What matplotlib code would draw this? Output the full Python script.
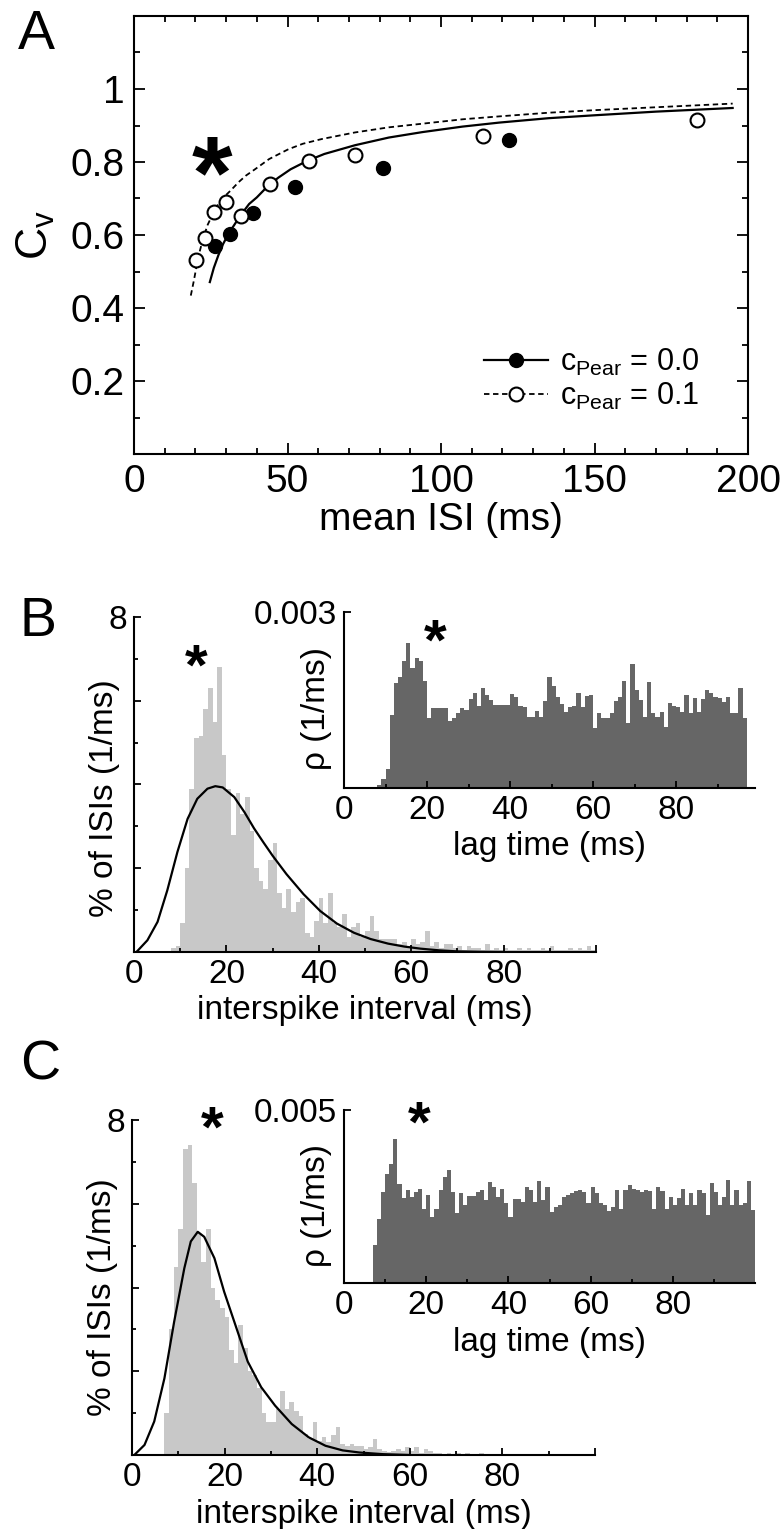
import numpy as np
import matplotlib
matplotlib.use('Agg')
import matplotlib.pyplot as plt
from matplotlib.lines import Line2D
from matplotlib.ticker import MultipleLocator, FixedLocator
from matplotlib.transforms import offset_copy

plt.rcParams['font.family'] = ['Liberation Sans', 'DejaVu Sans']
plt.rcParams['mathtext.fontset'] = 'custom'
plt.rcParams['mathtext.rm'] = 'Liberation Sans'
plt.rcParams['mathtext.it'] = 'Liberation Sans:italic'

# ---- panel A: Cv vs mean ISI ----
isi_c00 = [26.3, 31.3, 38.7, 52.3, 81.0, 122.0]
cv_c00 = [0.570, 0.603, 0.660, 0.731, 0.783, 0.861]
isi_c01 = [20.2, 23.0, 26.2, 29.9, 34.7, 44.3, 57.1, 72.0, 113.7, 183.5]
cv_c01 = [0.531, 0.591, 0.662, 0.690, 0.652, 0.740, 0.803, 0.820, 0.870, 0.915]

theo_c00_isi = [24.7, 26, 27.5, 29, 30.9, 33, 35, 37.5, 40, 43.7, 47, 51, 56.4, 62, 72,
                83, 94, 107, 119, 135, 150, 170, 195]
theo_c00_cv = [0.471, 0.51, 0.545, 0.575, 0.605, 0.632, 0.657, 0.685, 0.703, 0.735, 0.757,
               0.78, 0.803, 0.822, 0.846, 0.867, 0.882, 0.897, 0.908, 0.92, 0.928, 0.938, 0.948]
theo_c01_isi = [18.5, 19.5, 20.5, 21.5, 22.5, 24, 25.8, 27.5, 29.4, 31.5, 34.1, 36.5, 39.4,
                44, 50.3, 55, 61.2, 72, 83, 94, 107, 119, 135, 150, 170, 195]
theo_c01_cv = [0.434, 0.475, 0.52, 0.558, 0.59, 0.628, 0.66, 0.685, 0.705, 0.722, 0.745,
               0.763, 0.78, 0.808, 0.835, 0.85, 0.863, 0.881, 0.895, 0.905, 0.917, 0.925,
               0.935, 0.942, 0.95, 0.96]

# ---- panel B: ISI histogram (% per ms, 1 ms bins from 8 ms) ----
isi_b_start = 8
isi_b = [0.1, 0.15, 0.7, 2.0, 3.9, 5.1, 5.15, 5.8, 6.3, 5.5, 6.8, 4.7, 3.9, 2.8, 3.8, 3.3,
         3.7, 2.9, 2.0, 1.7, 1.5, 2.2, 2.6, 1.4, 1.05, 1.5, 0.95, 1.2, 1.3, 0.45, 0.35, 0.75,
         1.3, 0.7, 1.4, 0.7, 0.6, 0.9, 0.35, 0.6, 0.7, 0.35, 0.5, 0.85, 0.5, 0.3, 0.3, 0.3,
         0.3, 0.2, 0.25, 0.15, 0.3, 0.2, 0.25, 0.5, 0.15, 0.25, 0.1, 0.2, 0.2, 0.1, 0.15,
         0.05, 0.15, 0.1, 0.1, 0.05, 0.2, 0.05, 0.1, 0.05, 0.1, 0.05, 0.05, 0.1, 0.05, 0.1,
         0.05, 0.05, 0.1, 0.05, 0.15, 0.05, 0.05, 0.05, 0.1, 0.05, 0.1, 0.05, 0.15, 0.05]
fit_b_t = [0.5, 0.7, 2.9, 5.1, 7.2, 9.4, 11.6, 13.7, 15.9, 17.6, 19.2, 21.7, 23.9, 26.0, 28,
           30, 33, 36.7, 40.3, 43.9, 47.6, 51.2, 55, 58.5, 62, 66, 70, 75, 80]
fit_b_p = [0.0, 0.02, 0.28, 0.72, 1.47, 2.39, 3.18, 3.66, 3.90, 3.96, 3.93, 3.70, 3.34, 2.95,
           2.62, 2.30, 1.86, 1.38, 0.98, 0.68, 0.46, 0.31, 0.20, 0.13, 0.08, 0.04, 0.015,
           0.005, 0.0]
# autocorrelation (units of 1e-4 per ms, 1 ms bins from 8 ms)
rho_b_start = 8
rho_b = [0.5, 1.6, 3.3, 12.4, 17.9, 18.9, 21.7, 24.7, 20.4, 22.1, 21.6, 18.3, 11.9, 13.6,
         13.6, 13.6, 13.6, 11.5, 12.0, 12.8, 13.7, 13.3, 15.1, 16.2, 14.0, 17.1, 15.8, 15.0,
         14.1, 14.1, 14.1, 14.1, 16.1, 15.5, 14.0, 13.8, 12.1, 12.1, 13.1, 12.1, 14.8, 18.9,
         17.4, 15.5, 14.4, 13.0, 13.8, 14.0, 16.2, 13.8, 15.7, 15.8, 10.2, 12.7, 12.0, 12.0,
         12.7, 14.9, 15.5, 18.3, 11.0, 21.1, 16.7, 15.0, 12.1, 18.1, 12.7, 12.1, 13.0, 10.4,
         14.5, 14.0, 13.8, 12.9, 15.8, 12.8, 15.3, 13.0, 15.1, 16.7, 16.2, 15.5, 15.4, 14.7,
         15.5, 12.8, 12.7, 17.0, 11.9]

# ---- panel C ----
isi_c_start = 7
isi_c = [1.0, 3.0, 4.5, 5.4, 7.3, 7.4, 6.5, 5.3, 4.6, 5.4, 4.0, 3.7, 3.5, 3.3, 2.5, 2.2,
         3.1, 2.55, 2.0, 1.9, 1.6, 1.0, 0.8, 0.78, 1.1, 1.54, 1.1, 1.26, 1.06, 0.94, 0.5,
         0.38, 0.8, 0.34, 0.42, 0.32, 0.47, 0.66, 0.26, 0.22, 0.26, 0.22, 0.22, 0.14, 0.18,
         0.38, 0.14, 0.1, 0.06, 0.1, 0.14, 0.1, 0.18, 0.1, 0.2, 0.05, 0.15, 0.1, 0.05, 0.05,
         0.02, 0.05, 0.02, 0.05, 0.02, 0.05, 0.0, 0.02, 0.05, 0.02, 0.0, 0.02, 0.0, 0.0, 0.0,
         0.0, 0.0, 0.0, 0.0, 0.0, 0.0, 0.03]
fit_c_t = [0.5, 2.7, 4.8, 7.0, 9.1, 11.3, 12.7, 14.2, 15.6, 17.8, 19.9, 22.1, 25.0, 27.9,
           30.9, 34.5, 38.2, 41.8, 45.5, 49.1, 54.2, 60]
fit_c_p = [0.0, 0.24, 0.80, 1.83, 3.18, 4.46, 5.10, 5.33, 5.21, 4.70, 3.90, 3.18, 2.23, 1.62,
           1.18, 0.74, 0.42, 0.22, 0.11, 0.06, 0.02, 0.0]
rho_c_start = 7
rho_c = [10.9, 18.4, 26.3, 31.5, 34.4, 41.6, 28.5, 24.7, 27.0, 24.9, 26.3, 27.3, 21.5, 25.4,
         19.1, 21.5, 26.8, 30.5, 32.6, 26.3, 20.1, 26.1, 22.5, 25.1, 25.1, 26.3, 27.0, 23.9,
         29.2, 27.8, 24.9, 27.3, 23.0, 19.1, 24.4, 24.4, 23.4, 27.8, 26.8, 23.4, 29.5, 23.9,
         27.8, 20.6, 22.0, 22.5, 24.9, 25.4, 26.1, 26.6, 26.8, 26.3, 23.0, 27.8, 25.9, 23.0,
         22.5, 20.8, 22.0, 26.8, 21.5, 26.8, 28.3, 27.3, 26.8, 26.3, 26.8, 26.5, 21.5, 27.8,
         26.5, 21.5, 24.9, 22.5, 24.7, 27.3, 22.5, 26.1, 22.5, 26.8, 25.9, 19.6, 28.8, 26.3,
         22.5, 24.9, 29.9, 22.5, 27.0, 22.5, 23.2, 29.5, 21.0]

W, H = 783, 1529
FS = 24


def px_box(x0, y0, x1, y1):
    return [x0 / W, 1 - y1 / H, (x1 - x0) / W, (y1 - y0) / H]


def star(ax, x, y, size):
    tr = offset_copy(ax.transData, fig=ax.figure, y=-0.58 * size, units='points')
    ax.text(x, y, '*', transform=tr, fontsize=size, fontweight='bold',
            ha='center', va='baseline', clip_on=False)


def style_isi(ax, top):
    for s in ['top', 'right']:
        ax.spines[s].set_visible(False)
    for s in ['left', 'bottom']:
        ax.spines[s].set_linewidth(1.5)
    ax.set_xlim(0, 100)
    ax.set_ylim(0, top)
    ax.xaxis.set_major_locator(FixedLocator([0, 20, 40, 60, 80, 100]))
    ax.set_xticklabels(['0', '20', '40', '60', '80', ''])
    ax.xaxis.set_minor_locator(FixedLocator([10, 30, 50, 70, 90]))
    ax.yaxis.set_major_locator(FixedLocator([2, 4, 6, 8]))
    ax.set_yticklabels(['', '', '', '8'])
    ax.yaxis.set_minor_locator(FixedLocator([1, 3, 5, 7]))
    ax.tick_params(which='both', direction='in', labelsize=FS, width=1.3, pad=5)
    ax.tick_params(which='major', length=5)
    ax.tick_params(which='minor', length=3)
    ax.set_xlabel('interspike interval (ms)', fontsize=FS)
    ax.set_ylabel('% of ISIs (1/ms)', fontsize=FS)
    ax.yaxis.set_label_coords(-0.03, 0.46)


def style_inset(ax, right, top, toplabel):
    for s in ['top', 'right']:
        ax.spines[s].set_visible(False)
    for s in ['left', 'bottom']:
        ax.spines[s].set_linewidth(1.5)
    ax.set_xlim(0, right)
    ax.set_ylim(0, top)
    ax.xaxis.set_major_locator(FixedLocator([0, 20, 40, 60, 80]))
    ax.xaxis.set_minor_locator(FixedLocator([10, 30, 50, 70, 90]))
    ax.set_yticks([top])
    ax.set_yticklabels([toplabel])
    ax.tick_params(which='both', direction='in', labelsize=FS, width=1.3, pad=5)
    ax.tick_params(which='major', length=5)
    ax.tick_params(which='minor', length=3)
    ax.set_xlabel('lag time (ms)', fontsize=FS)
    ax.set_ylabel('ρ (1/ms)', fontsize=FS)
    ax.yaxis.set_label_coords(-0.03, 0.45)


fig = plt.figure(figsize=(W / 100, H / 100), dpi=100)

# ---------- A ----------
axA = fig.add_axes(px_box(134, 16, 748, 454))
axA.plot(theo_c00_isi, theo_c00_cv, color='k', lw=1.6)
axA.plot(theo_c01_isi, theo_c01_cv, color='k', lw=1.3, ls=(0, (3, 2)))
axA.plot(isi_c00, cv_c00, 'o', color='k', ms=10, zorder=3)
axA.plot(isi_c01, cv_c01, 'o', mfc='white', mec='k', mew=1.5, ms=10, zorder=3)
axA.set_xlim(0, 200)
axA.set_ylim(0, 1.2)
axA.set_xticks([0, 50, 100, 150, 200])
axA.set_xticklabels(['0', '50', '100', '150', '200'])
axA.set_yticks([0.2, 0.4, 0.6, 0.8, 1.0])
axA.set_yticklabels(['0.2', '0.4', '0.6', '0.8', '1'])
axA.xaxis.set_minor_locator(MultipleLocator(10))
axA.yaxis.set_minor_locator(MultipleLocator(0.1))
axA.tick_params(which='both', direction='in', top=True, right=True, labelsize=28,
                width=1.3, pad=7)
axA.tick_params(which='major', length=8)
axA.tick_params(which='minor', length=4)
for s in axA.spines.values():
    s.set_linewidth(1.5)
axA.set_xlabel('mean ISI (ms)', fontsize=28, labelpad=2)
axA.set_ylabel(r'C$_{\mathrm{v}}$', fontsize=32)
axA.yaxis.set_label_coords(-0.125, 0.5)
star(axA, 25.5, 0.84, 75)
handles = [Line2D([], [], color='k', lw=1.6, marker='o', ms=10, mfc='k', mec='k'),
           Line2D([], [], color='k', lw=1.3, ls=(0, (3, 2)), marker='o', ms=10,
                  mfc='white', mec='k', mew=1.5)]
axA.legend(handles, [r'c$_{\mathrm{Pear}}$ = 0.0', r'c$_{\mathrm{Pear}}$ = 0.1'],
           loc='center left', bbox_to_anchor=(0.57, 0.17), frameon=False,
           fontsize=22, handlelength=2.1, handletextpad=0.4, labelspacing=0.1,
           borderpad=0, borderaxespad=0)

# ---------- B ----------
axB = fig.add_axes(px_box(134, 617, 596, 952))
axB.bar(isi_b_start + np.arange(len(isi_b)), isi_b, width=1.0, align='edge',
        color='#c8c8c8', linewidth=0)
axB.plot(fit_b_t, fit_b_p, color='k', lw=1.6)
style_isi(axB, 8)
star(axB, 13.4, 7.2, 42)

axBi = fig.add_axes(px_box(344, 612, 755, 788))
axBi.bar(rho_b_start + np.arange(len(rho_b)), np.array(rho_b) * 1e-4, width=1.0,
         align='edge', color='#666666', linewidth=0)
style_inset(axBi, 99, 0.003, '0.003')
star(axBi, 22, 0.00277, 42)

# ---------- C ----------
axC = fig.add_axes(px_box(132, 1120, 595, 1455))
axC.bar(isi_c_start + np.arange(len(isi_c)), isi_c, width=1.0, align='edge',
        color='#c8c8c8', linewidth=0)
axC.plot(fit_c_t, fit_c_p, color='k', lw=1.6)
style_isi(axC, 8)
axC.yaxis.set_label_coords(-0.03, 0.47)
star(axC, 17.3, 8.17, 42)

axCi = fig.add_axes(px_box(344, 1110, 755, 1283))
axCi.bar(rho_c_start + np.arange(len(rho_c)), np.array(rho_c) * 1e-4, width=1.0,
         align='edge', color='#666666', linewidth=0)
style_inset(axCi, 100, 0.005, '0.005')
star(axCi, 18.3, 0.00506, 42)

fig.text(18 / W, 1 - 35 / H, 'A', fontsize=40, va='center', ha='left')
fig.text(20 / W, 1 - 622 / H, 'B', fontsize=40, va='center', ha='left')
fig.text(20 / W, 1 - 1066 / H, 'C', fontsize=40, va='center', ha='left')

fig.savefig('out.png', dpi=100)
